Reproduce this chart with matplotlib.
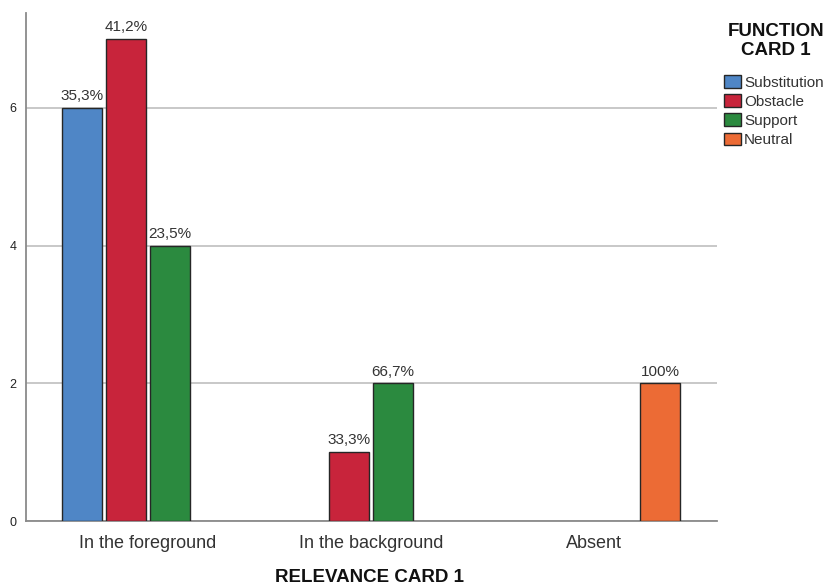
import matplotlib.pyplot as plt
import numpy as np
from matplotlib.patches import Patch

plt.rcParams["font.family"] = ["Liberation Sans", "DejaVu Sans"]

# Counts per relevance category for each function type (0 = no bar)
relevance = ["In the foreground", "In the background", "Absent"]
functions = ["Substitution", "Obstacle", "Support", "Neutral"]
substitution = [6, 0, 0]
obstacle = [7, 1, 0]
support = [4, 2, 0]
neutral = [0, 0, 2]
colors = ["#4f86c6", "#c8243b", "#2b8a3f", "#ec6b35"]

series = [substitution, obstacle, support, neutral]


def pct_label(value, total):
    p = 100.0 * value / total
    if abs(p - round(p)) < 1e-9:
        return f"{int(round(p))}%"
    return f"{p:.1f}%".replace(".", ",")


fig = plt.figure(figsize=(8.29, 5.87), dpi=100)
ax = fig.add_axes([26 / 829, 66 / 587, (717 - 26) / 829, (574 - 66) / 587])

step = 0.197
width = 0.179
x = np.arange(len(relevance))
totals = np.sum(series, axis=0)

for k, (vals, color) in enumerate(zip(series, colors)):
    for i, v in enumerate(vals):
        if v == 0:
            continue
        xpos = x[i] + (k - 1.5) * step
        ax.bar(xpos, v, width=width, color=color, edgecolor="#262626",
               linewidth=1.0, zorder=3)
        ax.text(xpos, v + 0.07, pct_label(v, totals[i]), ha="center",
                va="bottom", fontsize=11, color="#333333", zorder=4)

ax.set_xlim(-0.547, 2.55)
ax.set_ylim(0, 7.38)
ax.set_yticks([0, 2, 4, 6])
ax.set_xticks(x)
ax.set_xticklabels(relevance, fontsize=13, color="#333333")
ax.tick_params(axis="x", length=0, pad=10)
ax.tick_params(axis="y", length=0, pad=7, labelsize=9, labelcolor="#222222")

ax.grid(axis="y", color="#c4c4c4", linewidth=1.3, zorder=0)
for side in ["top", "right"]:
    ax.spines[side].set_visible(False)
for side in ["left", "bottom"]:
    ax.spines[side].set_color("#8a8a8a")
    ax.spines[side].set_linewidth(1.3)

fig.text(370 / 829, 1 - 577 / 587, "RELEVANCE CARD 1", ha="center",
         va="center", fontsize=13.5, fontweight="bold", color="#111111")

# legend title drawn separately so it can be centred over the entries
fig.text(776 / 829, 1 - 41 / 587, "FUNCTION\nCARD 1", ha="center",
         va="center", multialignment="center", fontsize=13.5,
         fontweight="bold", color="#111111", linespacing=1.2)

handles = [Patch(facecolor=c, edgecolor="#262626", linewidth=1.0) for c in colors]
leg = fig.legend(handles, functions, loc="upper left",
                 bbox_to_anchor=(724 / 829, 1 - 75 / 587), frameon=False,
                 fontsize=11, handlelength=1.1, handleheight=0.9,
                 handletextpad=0.2, labelspacing=0.3, borderpad=0,
                 borderaxespad=0)
for t in leg.get_texts():
    t.set_color("#333333")

fig.savefig("out.png", dpi=100)
